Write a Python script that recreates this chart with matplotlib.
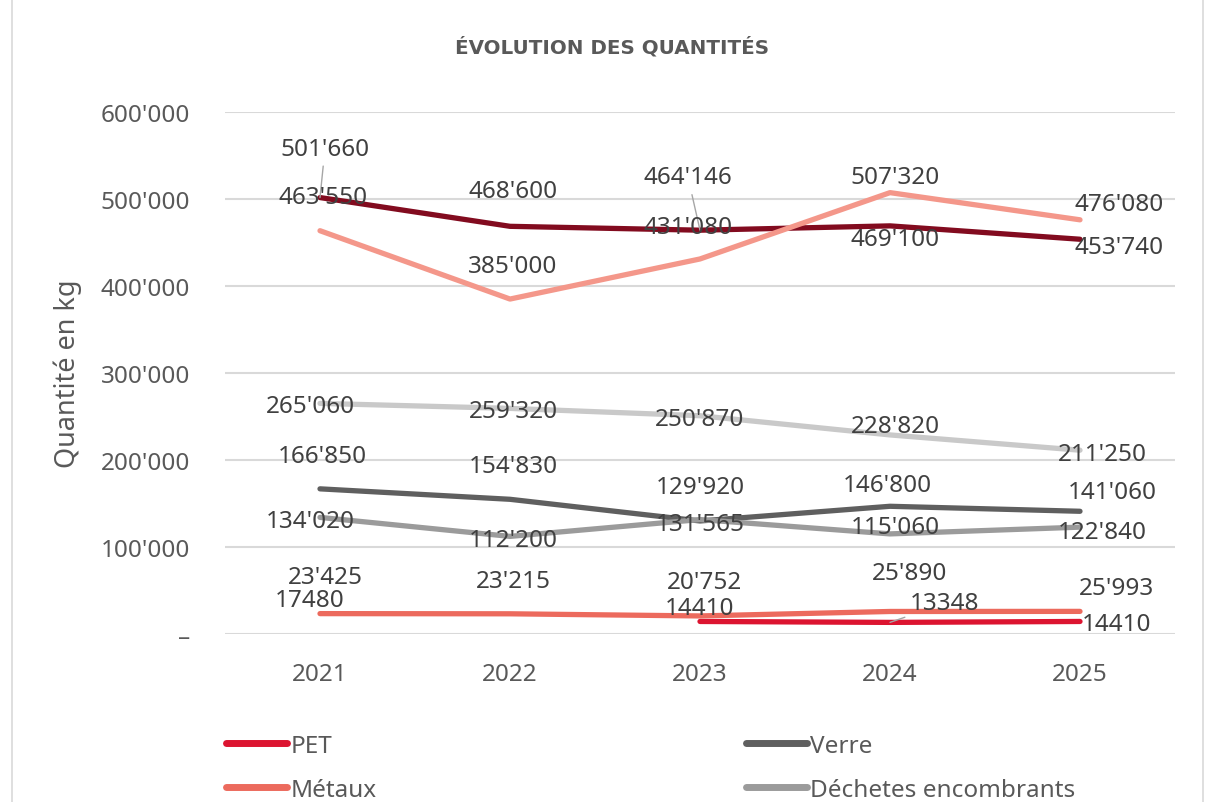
import numpy as np
import matplotlib
matplotlib.use("Agg")
import matplotlib.pyplot as plt
from matplotlib.lines import Line2D
from matplotlib.ticker import FuncFormatter

plt.rcParams['font.family'] = ['Noto Sans', 'DejaVu Sans']

years = ['2021', '2022', '2023', '2024', '2025']

# quantities in kg
pet = [17480, np.nan, 14410, 13348, 14410]
verre = [166850, 154830, 129920, 146800, 141060]
metaux = [23425, 23215, 20752, 25890, 25993]
dechetes = [134020, 112200, 131565, 115060, 122840]
serie_5 = [501660, 468600, 464146, 469100, 453740]
serie_6 = [463550, 385000, 431080, 507320, 476080]
serie_7 = [265060, 259320, 250870, 228820, 211250]

# label offsets in pixels (dx, dy) for each point
off_pet = [(-10, 19), None, (0, 13), (55, 19), (37, -3)]
off_verre = [(2, 33), (3, 33), (0, 34), (-3, 21), (32, 19)]
off_metaux = [(5, 37), (3, 33), (5, 34), (20, 38), (37, 23)]
off_dech = [(-10, -4), (3, -4), (0, -4), (5, 7), (22, -5)]
off_5 = [(5, 49), (3, 35), (-12, 53), (5, -13), (39, -8)]
off_6 = [(3, 34), (3, 33), (-12, 32), (5, 16), (39, 16)]
off_7 = [(-10, -3), (3, -3), (0, -3), (5, 9), (22, -4)]


def swiss(v):
    return f"{int(round(v)):,}".replace(",", "'")


series = [
    (pet, 'PET', '#dc1430', off_pet, False),
    (verre, 'Verre', '#5f5f5f', off_verre, True),
    (metaux, 'Métaux', '#ec6a5d', off_metaux, True),
    (dechetes, 'Déchetes encombrants', '#9b9b9b', off_dech, True),
    (serie_5, '_s5', '#820b1f', off_5, True),
    (serie_6, '_s6', '#f4978a', off_6, True),
    (serie_7, '_s7', '#c9c9c9', off_7, True),
]

# points that get a leader line back to the mark
leaders = {('_s5', 0), ('_s5', 2), ('PET', 3)}

fig = plt.figure(figsize=(12.18, 8.03), dpi=100)
ax = fig.add_axes([225 / 1218, 1 - 635 / 803, 950 / 1218, 522 / 803])

x = np.arange(len(years))
handles = {}
for vals, name, col, offs, sep in series:
    ax.plot(x, vals, color=col, lw=3.8, solid_capstyle='round',
            solid_joinstyle='round', label=name)
    handles[name] = col
    for i, v in enumerate(vals):
        if offs[i] is None or np.isnan(v):
            continue
        txt = swiss(v) if sep else str(int(v))
        kw = {}
        if (name, i) in leaders:
            kw['arrowprops'] = dict(arrowstyle='-', color='#a6a6a6', lw=1,
                                    shrinkA=2, shrinkB=0)
        ax.annotate(txt, (x[i], v), xytext=offs[i], textcoords='offset pixels',
                    ha='center', va='center', fontsize=17.5, color='#404040',
                    zorder=5, **kw)

ax.set_xlim(-0.5, len(years) - 0.5)
ax.set_ylim(0, 600000)
ax.set_yticks(np.arange(0, 600001, 100000))
ax.yaxis.set_major_formatter(FuncFormatter(lambda v, p: '–' if v == 0 else swiss(v)))
ax.set_xticks(x)
ax.set_xticklabels(years)
ax.grid(axis='y', color='#d9d9d9', lw=1.5)
ax.set_axisbelow(True)
for s in ax.spines.values():
    s.set_visible(False)
ax.tick_params(axis='both', length=0, labelsize=17.5, labelcolor='#595959')
ax.tick_params(axis='y', pad=25)
ax.tick_params(axis='x', pad=20)
ax.set_ylabel('Quantité en kg', fontsize=19.5, color='#595959')
ax.yaxis.set_label_coords(-0.151, 0.5)

fig.text(612 / 1218, 1 - 47 / 803, 'ÉVOLUTION DES QUANTITÉS', ha='center',
         va='center', fontsize=14.3, fontweight='bold', color='#595959',
         family='DejaVu Sans')

# legend in two columns, drawn as two separate legends
def make_leg(names, left):
    hs = [Line2D([], [], color=handles[n], lw=5, solid_capstyle='round') for n in names]
    leg = fig.legend(hs, names, loc='upper left',
                     bbox_to_anchor=(left / 1218, 1 - 735 / 803),
                     frameon=False, fontsize=17.5, handlelength=2.5,
                     handletextpad=0.15, labelspacing=0.82, borderpad=0,
                     borderaxespad=0)
    for t in leg.get_texts():
        t.set_color('#595959')
    return leg

make_leg(['PET', 'Métaux'], 226)
make_leg(['Verre', 'Déchetes encombrants'], 746)

# chart frame edges
for fx in (12 / 1218, 1203 / 1218):
    fig.add_artist(Line2D([fx, fx], [0, 1], color='#d9d9d9', lw=1.2,
                          transform=fig.transFigure))

fig.savefig('out.png', dpi=100)
